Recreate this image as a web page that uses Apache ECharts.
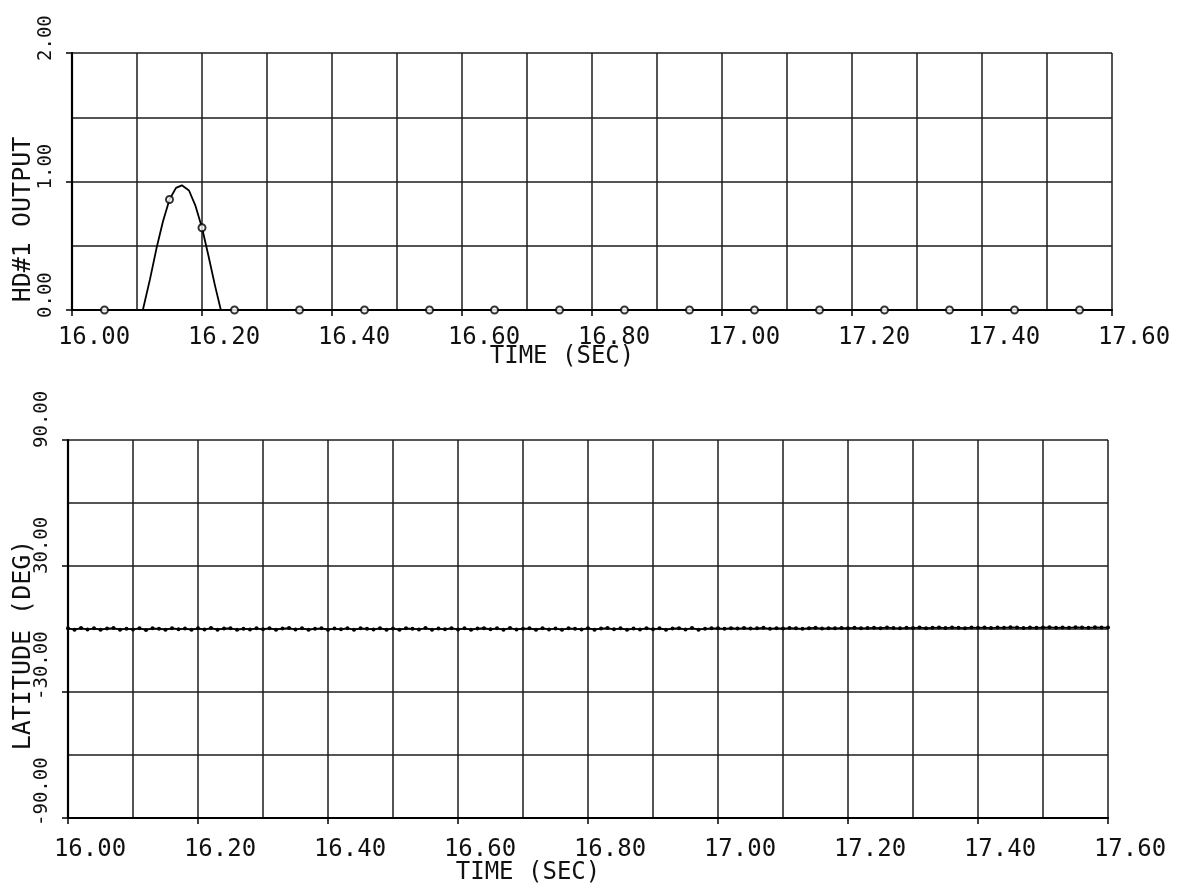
<!DOCTYPE html>
<html>
<head>
<meta charset="utf-8">
<title>HD#1 output and latitude vs time</title>
<script src="https://cdn.jsdelivr.net/npm/echarts@6/dist/echarts.min.js"></script>
<style>
  html, body { margin: 0; padding: 0; background: #fff; }
  #chart { width: 1180px; height: 890px; }
</style>
</head>
<body>
<div id="chart"></div>
<script>
// ---- data -------------------------------------------------------------
// HD#1 output: flat at zero except for one pulse just after 16.1 s
const hdTimes  = [16.00, 16.05, 16.10, 16.109, 16.12, 16.13, 16.14, 16.15, 16.16, 16.169,
                  16.18, 16.19, 16.20, 16.21, 16.22, 16.229, 16.25, 16.35, 16.45, 16.55,
                  16.65, 16.75, 16.85, 16.95, 17.05, 17.15, 17.25, 17.35, 17.45, 17.55, 17.60];
const hdValues = [0, 0, 0, 0, 0.24, 0.48, 0.69, 0.86, 0.95, 0.97,
                  0.93, 0.81, 0.64, 0.42, 0.19, 0, 0, 0, 0, 0,
                  0, 0, 0, 0, 0, 0, 0, 0, 0, 0, 0];

// plotted sample symbols on the HD#1 trace
const hdMarkTimes  = [16.05, 16.15, 16.20, 16.25, 16.35, 16.45, 16.55, 16.65, 16.75,
                      16.85, 16.95, 17.05, 17.15, 17.25, 17.35, 17.45, 17.55];
const hdMarkValues = [0, 0.86, 0.64, 0, 0, 0, 0, 0, 0,
                      0, 0, 0, 0, 0, 0, 0, 0];

// latitude samples, one every 0.01 s starting at 16.00 s
const latStart = 16.00;
const latStep = 0.01;
const latValues = [
  0.4, -0.3, 0.5, -0.2, 0.3, -0.4, 0.2, 0.5, -0.3, 0.1,
  -0.2, 0.4, -0.5, 0.3, 0.1, -0.3, 0.4, -0.1, 0.2, -0.4,
  0.3, -0.2, 0.5, -0.3, 0.2, 0.4, -0.4, 0.1, -0.2, 0.3,
  -0.1, 0.4, -0.3, 0.2, 0.5, -0.2, 0.3, -0.4, 0.1, 0.3,
  -0.3, 0.2, -0.1, 0.4, -0.4, 0.3, 0.1, -0.2, 0.4, -0.3,
  0.2, -0.4, 0.3, 0.1, -0.2, 0.5, -0.3, 0.2, -0.1, 0.4,
  -0.2, 0.3, -0.4, 0.2, 0.4, -0.1, 0.3, -0.3, 0.5, -0.2,
  0.1, 0.3, -0.3, 0.4, -0.2, 0.2, -0.4, 0.3, 0.1, -0.2,
  0.4, -0.3, 0.2, 0.5, -0.1, 0.3, -0.4, 0.2, -0.2, 0.4,
  -0.1, 0.3, -0.3, 0.2, 0.4, -0.2, 0.5, -0.3, 0.1, 0.3,
  0.3, 0.1, 0.4, 0.2, 0.5, 0.2, 0.3, 0.6, 0.1, 0.4,
  0.2, 0.5, 0.3, 0.1, 0.4, 0.6, 0.2, 0.4, 0.3, 0.5,
  0.4, 0.6, 0.3, 0.5, 0.6, 0.4, 0.7, 0.5, 0.3, 0.6,
  0.5, 0.7, 0.4, 0.6, 0.7, 0.5, 0.7, 0.6, 0.4, 0.7,
  0.6, 0.7, 0.5, 0.7, 0.6, 0.8, 0.7, 0.5, 0.7, 0.6,
  0.7, 0.8, 0.6, 0.7, 0.6, 0.8, 0.7, 0.6, 0.8, 0.7,
  0.7
];

// labelled tick positions on the latitude axis
const latTicks = [-90, -30, 30, 90];

// ---- styling helpers -------------------------------------------------
const FONT = '"DejaVu Sans Mono", "Liberation Mono", monospace';
const INK = '#111';
const GRID_LINE = { color: '#1c1c1c', width: 1.5 };
const AXIS_LINE = { color: '#000', width: 2.2 };
const TICK_LINE = { color: '#000', width: 1.5 };

// Rotated tick labels on the y axes start a little below their tick;
// a leading spacer sized to the label length does that with centred text.
const Y_FONT = 19;
const Y_CHAR = Y_FONT * 0.602;
const Y_DROP = 8;
const yRich = {};
for (let n = 3; n <= 7; n++) {
  yRich['p' + n] = { width: Math.max(0, n * Y_CHAR - 2 * Y_DROP), fontSize: Y_FONT, fontFamily: FONT };
}
function yLabel(v) {
  const s = v.toFixed(2);
  return '{p' + s.length + '| }' + s;
}

function timeAxis(gridIndex, labelMargin, nameGap, nameShift) {
  return {
    type: 'value', gridIndex: gridIndex,
    min: 16.0, max: 17.6, interval: 0.2,
    axisLine: { show: true, onZero: false, lineStyle: AXIS_LINE },
    axisTick: { show: true, inside: false, length: 6, lineStyle: TICK_LINE },
    splitLine: { show: true, lineStyle: GRID_LINE },
    minorTick: { show: false, splitNumber: 2 },
    minorSplitLine: { show: true, lineStyle: GRID_LINE },
    axisLabel: {
      show: true, margin: labelMargin,
      fontFamily: FONT, fontSize: 24, color: INK, align: 'center',
      formatter: v => '{pad| }' + v.toFixed(2),
      rich: { pad: { width: 44, fontSize: 24, fontFamily: FONT } }
    },
    name: 'TIME (SEC)', nameLocation: 'middle', nameGap: nameGap,
    nameMoveOverlap: false,
    nameTextStyle: { fontFamily: FONT, fontSize: 24, color: INK,
                     padding: [0, nameShift, 0, 0] }
  };
}

function labelAxisY(extra) {
  return Object.assign({
    type: 'value', position: 'left',
    axisLine: { show: true, onZero: false, lineStyle: AXIS_LINE },
    axisTick: { show: true, inside: false, length: 6, lineStyle: TICK_LINE },
    axisLabel: {
      show: true, rotate: 90, margin: 16,
      align: 'center', verticalAlign: 'bottom',
      fontFamily: FONT, fontSize: Y_FONT, color: INK,
      formatter: yLabel, rich: yRich
    },
    nameLocation: 'middle', nameRotate: 90, nameMoveOverlap: false
  }, extra);
}

// ---- chart -----------------------------------------------------------
const chart = echarts.init(document.getElementById('chart'), null, { renderer: 'canvas' });

const option = {
  backgroundColor: '#ffffff',
  animation: false,
  grid: [
    { left: 72, right: 68, top: 53, height: 257, containLabel: false, outerBoundsMode: 'none' },
    { left: 68, right: 72, top: 440, height: 378, containLabel: false, outerBoundsMode: 'none' }
  ],
  xAxis: [
    timeAxis(0, 16, 35, 60),
    timeAxis(1, 20, 43, 120)
  ],
  yAxis: [
    // HD#1 output: labels at whole units, grid every half unit
    labelAxisY({
      gridIndex: 0, min: 0, max: 2, interval: 1,
      splitLine: { show: true, lineStyle: GRID_LINE },
      minorTick: { show: false, splitNumber: 2 },
      minorSplitLine: { show: true, lineStyle: GRID_LINE },
      name: 'HD#1 OUTPUT', nameGap: 36,
      nameTextStyle: { fontFamily: FONT, fontSize: 25, color: INK, padding: [0, 76, 0, 0] }
    }),
    // latitude: labels every 60 deg from -90
    labelAxisY({
      gridIndex: 1, min: -90, max: 90,
      axisTick: { show: true, inside: false, length: 6, customValues: latTicks, lineStyle: TICK_LINE },
      axisLabel: {
        show: true, customValues: latTicks, rotate: 90, margin: 16,
        align: 'center', verticalAlign: 'bottom',
        fontFamily: FONT, fontSize: Y_FONT, color: INK,
        formatter: yLabel, rich: yRich
      },
      splitLine: { show: false },
      name: 'LATITUDE (DEG)', nameGap: 32,
      nameTextStyle: { fontFamily: FONT, fontSize: 25, color: INK, padding: [0, 32, 0, 0] }
    }),
    // latitude grid lines every 30 deg
    {
      type: 'value', gridIndex: 1, position: 'left', min: -90, max: 90, interval: 30,
      axisLine: { show: false }, axisTick: { show: false }, axisLabel: { show: false },
      splitLine: { show: true, lineStyle: GRID_LINE }
    }
  ],
  series: [
    {
      name: 'HD#1 OUTPUT', type: 'line', xAxisIndex: 0, yAxisIndex: 0,
      data: hdTimes.map((t, i) => [t, hdValues[i]]),
      showSymbol: false, smooth: false,
      lineStyle: { color: '#000', width: 1.8 }, z: 3
    },
    {
      name: 'HD#1 samples', type: 'scatter', xAxisIndex: 0, yAxisIndex: 0,
      data: hdMarkTimes.map((t, i) => [t, hdMarkValues[i]]),
      symbol: 'circle', symbolSize: 7,
      itemStyle: { color: '#fff', borderColor: '#000', borderWidth: 2 }, z: 4
    },
    {
      name: 'LATITUDE', type: 'line', xAxisIndex: 1, yAxisIndex: 1,
      data: latValues.map((v, i) => [latStart + i * latStep, v]),
      showSymbol: true, symbol: 'circle', symbolSize: 4,
      itemStyle: { color: '#000' },
      lineStyle: { color: '#000', width: 1.6 }, z: 3
    }
  ]
};

chart.setOption(option);
</script>
</body>
</html>
